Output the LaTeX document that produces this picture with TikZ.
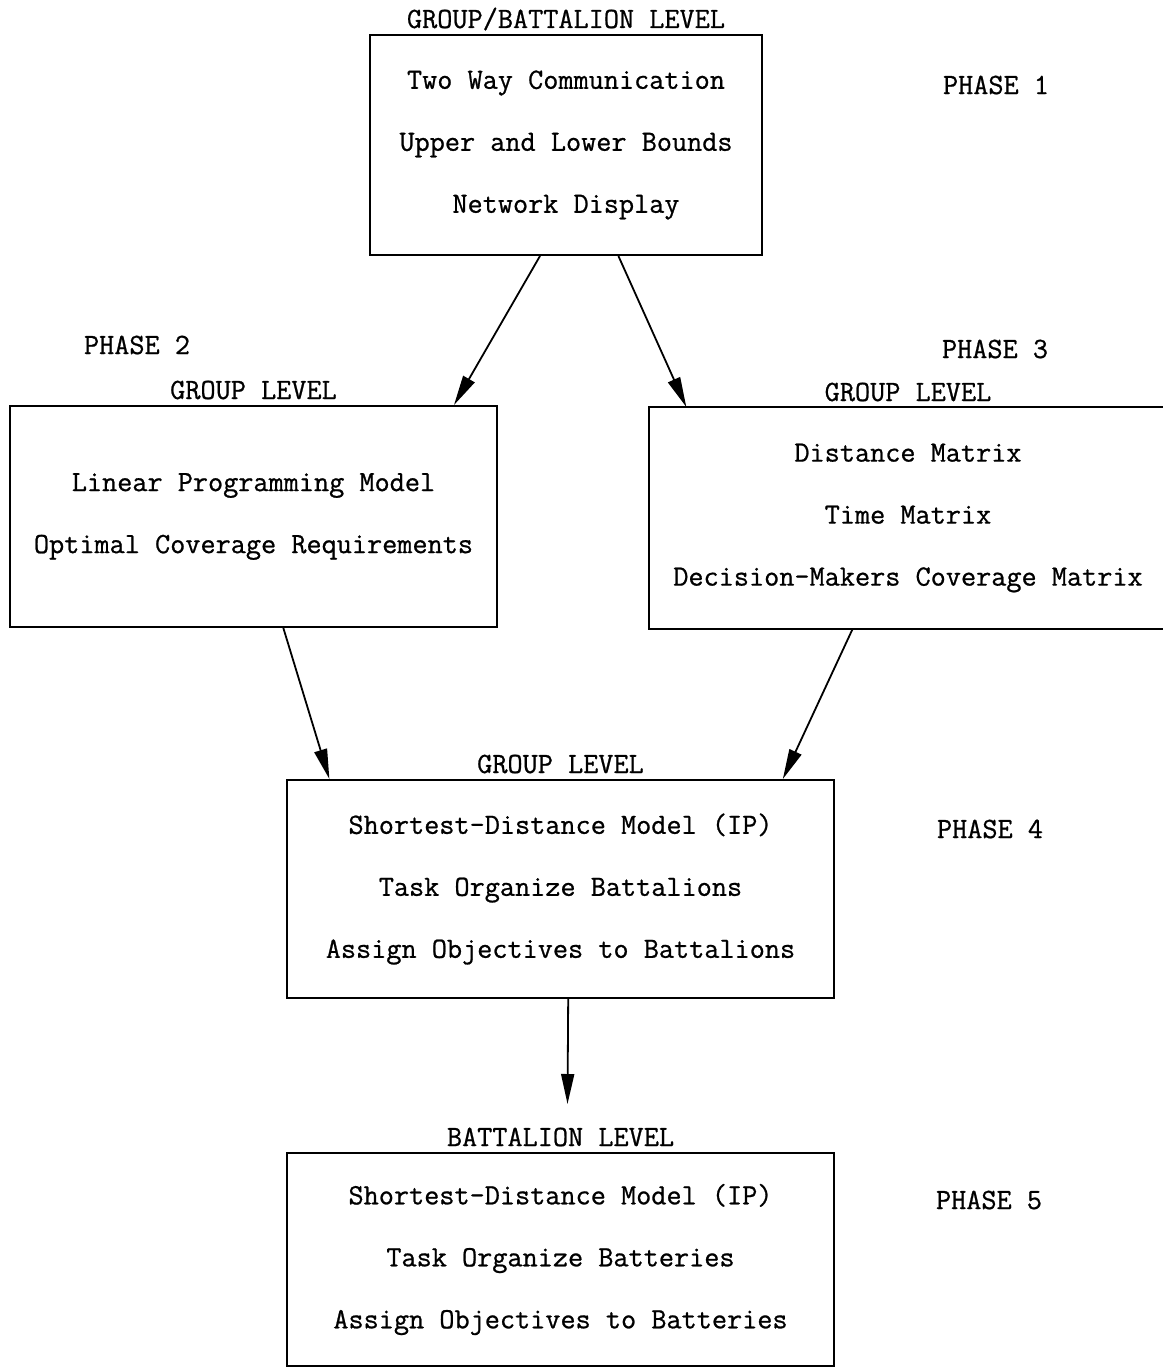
\documentclass[tikz,border=0pt]{standalone}
\usepackage{fontspec}
\newfontfamily\twfont{Latin Modern Mono}[FakeBold=0.8]
\usetikzlibrary{arrows.meta,calc}
\begin{document}
\begin{tikzpicture}[x=0.5pt,y=-0.5pt,
  box/.style={draw, line width=1pt, inner sep=0pt, align=center,
    font=\fontsize{14.7}{31}\selectfont\twfont},
  lvl/.style={font=\fontsize{14.7}{17}\selectfont\twfont, anchor=base, inner sep=0pt},
  phase/.style={font=\fontsize{14.7}{17}\selectfont\twfont, inner sep=0pt},
  conn/.style={line width=0.9pt, -{Triangle[length=15pt,width=6.5pt]}}]
\useasboundingbox (0,0) rectangle (1162,1369);

% boxes
\node[box, minimum width=196pt, minimum height=110pt] (b1) at (566,145)
  {Two Way Communication\\Upper and Lower Bounds\\Network Display};
\node[box, minimum width=243.5pt, minimum height=110.5pt] (b2) at (253.5,516.5)
  {Linear Programming Model\\Optimal Coverage Requirements};
\node[box, draw=none, minimum width=258pt, minimum height=110pt] (b3) at (908,518)
  {Distance Matrix\\Time Matrix\\Decision-Makers Coverage Matrix};
\draw[line width=1pt] ($(b3.north east)+(20,0)$) -- (b3.north west) -- (b3.south west) -- ($(b3.south east)+(20,0)$);
\node[box, minimum width=273.5pt, minimum height=109pt] (b4) at (560.5,889)
  {Shortest-Distance Model (IP)\\Task Organize Battalions\\Assign Objectives to Battalions};
\node[box, minimum width=273.5pt, minimum height=106.5pt] (b5) at (560.5,1259.5)
  {Shortest-Distance Model (IP)\\Task Organize Batteries\\Assign Objectives to Batteries};

% level labels
\node[lvl] (l1) at ([yshift=3pt]b1.north) {GROUP/BATTALION LEVEL};
\node[lvl] (l2) at ([yshift=3pt]b2.north) {GROUP LEVEL};
\node[lvl] (l3) at ([yshift=3pt]b3.north) {GROUP LEVEL};
\node[lvl] (l4) at ([yshift=3pt]b4.north) {GROUP LEVEL};
\node[lvl] (l5) at ([yshift=3pt]b5.north) {BATTALION LEVEL};

% phase labels
\node[phase] (p1) at (996,85) {PHASE 1};
\node[phase] (p2) at (137,345) {PHASE 2};
\node[phase] (p3) at (995,349) {PHASE 3};
\node[phase] (p4) at (990,829) {PHASE 4};
\node[phase] (p5) at (989,1200) {PHASE 5};

% connectors
\draw[conn] ($(b1.south west)!0.434!(b1.south east)$) -- ($(b2.north west)!0.910!(b2.north east)$);
\draw[conn] ($(b1.south west)!0.633!(b1.south east)$) -- ($(b3.north west)!0.072!(b3.north east)$);
\draw[conn] ($(b2.south west)!0.561!(b2.south east)$) -- ($(b4.north west)!0.079!(b4.north east)$);
\draw[conn] ($(b3.south west)!0.393!(b3.south east)$) -- ($(b4.north west)!0.905!(b4.north east)$);
\draw[conn] ($(b4.south west)!0.514!(b4.south east)$) -- ($(b5.north)+(7,-48)$);
\end{tikzpicture}
\end{document}
